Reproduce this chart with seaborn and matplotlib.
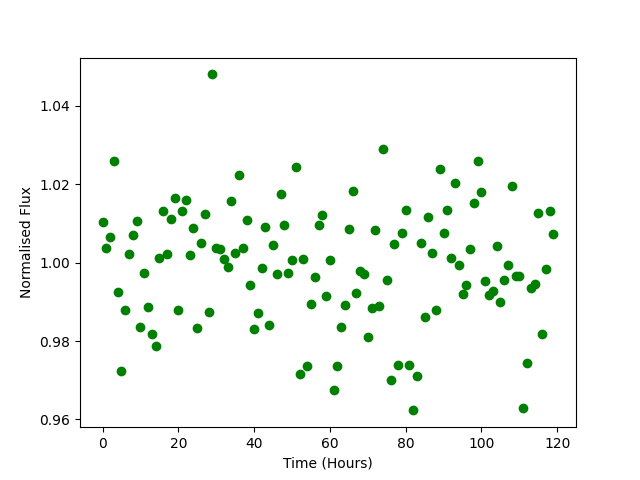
import numpy as np
import pandas as pd
import matplotlib
matplotlib.use('Agg')
import matplotlib.pyplot as plt
import seaborn as sns

# Time in hours (one reading per hour)
hours = list(range(120))

# Normalised flux
flux = [
    1.0103, 1.0037, 1.0065, 1.0260, 0.9925, 0.9723, 0.9879, 1.0022, 1.0070, 1.0106,
    0.9835, 0.9973, 0.9886, 0.9817, 0.9786, 1.0012, 1.0131, 1.0021, 1.0110, 1.0165,
    0.9880, 1.0131, 1.0160, 1.0020, 1.0087, 0.9833, 1.0050, 1.0123, 0.9874, 1.0480,
    1.0037, 1.0034, 1.0009, 0.9989, 1.0157, 1.0024, 1.0223, 1.0037, 1.0108, 0.9942,
    0.9830, 0.9871, 0.9986, 1.0091, 0.9840, 1.0045, 0.9970, 1.0175, 1.0096, 0.9973,
    1.0006, 1.0244, 0.9717, 1.0009, 0.9735, 0.9894, 0.9963, 1.0096, 1.0121, 0.9914,
    1.0006, 0.9676, 0.9735, 0.9835, 0.9891, 1.0086, 1.0183, 0.9922, 0.9978, 0.9970,
    0.9810, 0.9884, 1.0083, 0.9889, 1.0290, 0.9955, 0.9700, 1.0047, 0.9740, 1.0075,
    1.0134, 0.9738, 0.9623, 0.9712, 1.0050, 0.9862, 1.0116, 1.0024, 0.9880, 1.0239,
    1.0075, 1.0134, 1.0012, 1.0203, 0.9994, 0.9920, 0.9942, 1.0035, 1.0152, 1.0260,
    1.0180, 0.9953, 0.9917, 0.9927, 1.0042, 0.9899, 0.9955, 0.9994, 1.0196, 0.9965,
    0.9965, 0.9630, 0.9743, 0.9935, 0.9945, 1.0127, 0.9817, 0.9983, 1.0131, 1.0073,
]

df = pd.DataFrame({'time': hours, 'flux': flux})

fig, ax = plt.subplots(figsize=(6.4, 4.8), dpi=100)
sns.scatterplot(data=df, x='time', y='flux', color='green', edgecolor='green',
                s=36, linewidth=1, ax=ax)
ax.set_xlabel('Time (Hours)')
ax.set_ylabel('Normalised Flux')
ax.set_yticks([0.96, 0.98, 1.00, 1.02, 1.04])
ax.set_xticks([0, 20, 40, 60, 80, 100, 120])
fig.savefig('out.png', dpi=100)
